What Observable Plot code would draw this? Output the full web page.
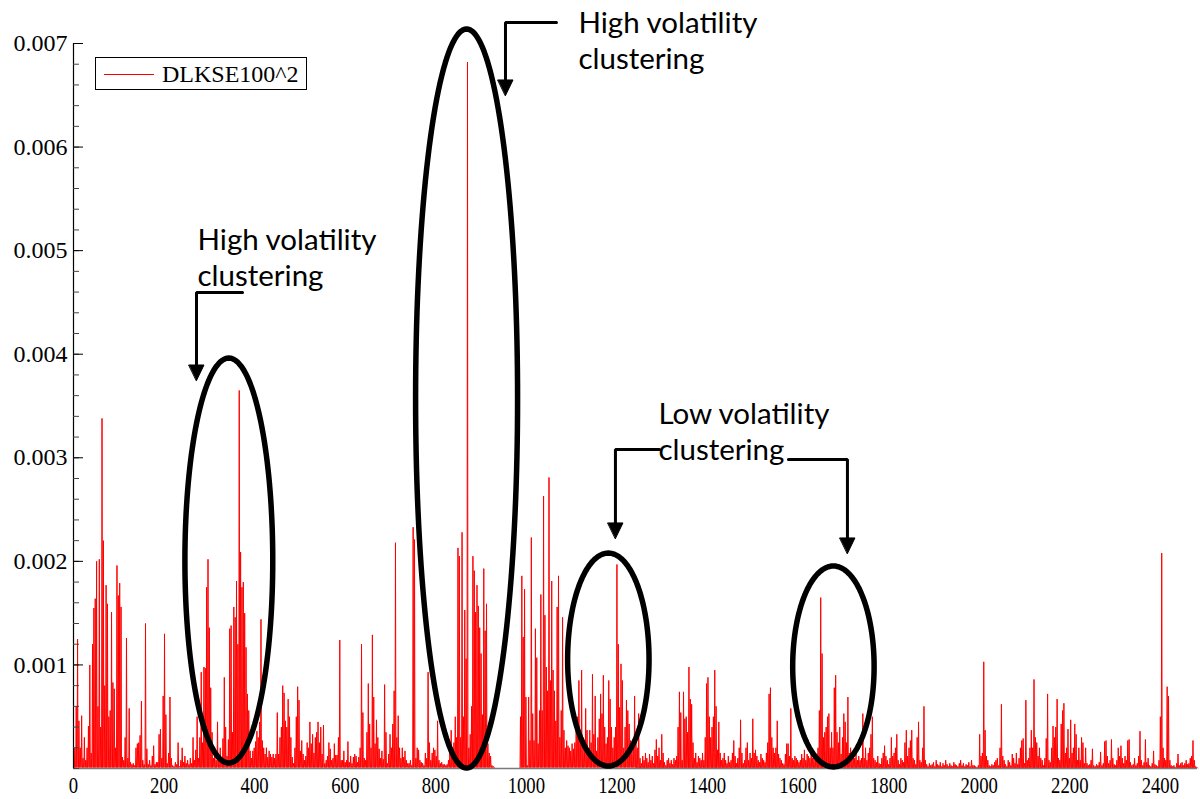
<!DOCTYPE html>
<html><head><meta charset="utf-8">
<script src="https://cdn.jsdelivr.net/npm/d3@7"></script>
<script src="https://cdn.jsdelivr.net/npm/@observablehq/plot@0.6"></script>
<style>
html,body{margin:0;padding:0;background:#fff;}
#wrap{position:relative;width:1200px;height:799px;overflow:hidden;background:#fff;}
#legend{position:absolute;left:95px;top:57px;width:212px;height:33px;border:1px solid #000;background:#fff;box-sizing:border-box;font-family:"Liberation Serif","Times New Roman",serif;font-size:24px;color:#000;}
#legend .sw{position:absolute;left:8px;top:16px;width:50px;height:0;border-top:1px solid #ff0000;}
#legend .lb{position:absolute;left:66px;top:1px;line-height:31px;white-space:nowrap;}
</style></head><body>
<div id="wrap"></div>
<script>
// ---- data: squared log returns of KSE-100 (DLKSE100^2), in units of 1e-5 ----
// local peak read every 3 observations; troughs between peaks read from the lower envelope of each segment
const obsStep = 3;
const valueUnit = 1e-5;
const segStarts = [0, 237, 489, 741, 987, 1242, 1491, 1743, 1989, 2235];
const segFloors = [1, 1, 1, 1, 1, 0.6, 0.6, 0.5, 0.5, 0.5];
const seg0 = [15,20,60,125,46,20,51,10,30,8, 20,41,100,15,120,155,164,200,60,202, 40,338,220,80,177,159,50,56,151,83, 77,20,196,167,179,156,11,8,30,126, 10,58,6,4,5,3,20,24,25,32, 65,8,4,140,19,4,8,3,12,22, 4,6,6,33,38,10,70,130,52,5, 15,69,10,3,2,6,4,25,2];
const seg1 = [8,20,6,12,5,8,4,10,5,30, 8,18,50,10,30,93,25,98,97,175, 202,136,78,35,10,20,8,45,12,20, 10,29,88,40,12,28,135,138,35,156, 146,181,120,365,209,175,180,150,117,72, 56,17,10,17,20,26,36,30,45,144, 27,20,14,20,11,17,14,11,14,10, 14,54,14,30,40,80,73,46,40,67, 50,30,11,5];
const seg2 = [20,50,79,66,17,27,14,8,12,25, 20,45,24,33,15,30,35,45,25,40, 14,42,5,8,12,25,19,8,10,24, 13,13,30,124,8,8,17,6,8,26, 6,12,5,11,14,12,6,11,20,120, 54,10,8,35,82,43,20,129,69,24, 47,30,19,10,17,9,81,35,5,14, 33,20,43,75,218,30,51,20,10,20, 11,17,8,5];
const seg3 = [5,8,3,233,221,10,20,18,8,6, 5,3,15,10,93,25,8,15,20,18, 12,46,8,5,6,4,4,3,4,8, 15,37,20,25,50,30,213,205,30,228, 50,153,106,682,20,33,60,205,191,151, 177,157,136,111,52,193,133,159,24,15, 12,3,2, 0,0,0,0,0,0,0,0,0,0,0,0,0,0,0,0,0,0,0];
const seg4 = [50,186,127,173,69,3,69,27,223,53, 27,135,107,24,56,168,56,263,148,98, 75,281,85,181,95,75,46,156,186,30, 56,146,37,20,27,22,20,17,24,19, 25,37,50,85,37,95,30,20,58,37, 14,37,25,91,33,70,17,30,48,72, 53,90,40,24,30,85,67,40,20,30, 40,197,120,59,101,85,20,40,66,56, 43,27,20,20,70];
const seg5 = [30,20,53,10,5,12,8,15,10,6, 14,8,12,5,18,28,12,20,8,33, 15,6,3,8,10,5,8,4,10,8, 12,40,74,54,8,74,48,50,35,98, 67,62,25,10,15,6,12,10,8,15, 8,30,82,88,50,30,40,50,95,60, 18,45,15,8,10,15,8,5,12,6, 8,15,27,12,5,10,20,47,15,5, 8,20,25];
const seg6 = [8,15,10,48,15,18,12,8,6,14, 10,8,6,15,25,72,78,30,20,15, 20,46,14,10,8,5,4,14,24,24, 12,58,10,8,12,10,8,6,8,14, 10,18,8,14,12,10,15,10,12,8, 14,20,56,165,111,30,35,40,50,53, 20,35,20,78,90,35,25,40,14,30, 53,45,25,69,15,20,12,15,10,14, 8,12,8,10];
const seg7 = [53,10,20,8,15,20,33,50,10,8, 6,12,5,4,10,15,22,12,8,4, 10,30,12,15,20,33,8,4,10,8, 6,25,37,12,20,27,37,10,8,4, 30,45,8,6,20,60,8,4,2,5, 3,4,6,2,8,4,3,6,2,5, 3,8,4,2,5,3,2,6,4,3, 2,5,8,3,5,2,4,3,6,2, 8,3];
const seg8 = [3,2,1,3,33,12,15,103,37,12, 8,3,2,4,3,6,8,10,3,20, 62,12,8,4,2,8,6,3,14,10, 5,15,4,10,20,27,29,5,66,8, 10,20,37,20,86,30,25,12,20,10, 8,3,10,29,72,8,6,20,41,30, 40,67,10,8,43,56,63,15,20,38, 10,47,15,20,43,33,8,20,8,30, 25,5];
const seg9 = [20,5,3,4,8,19,3,2,4,3, 6,16,3,5,26,27,12,5,8,28, 10,4,3,8,20,12,22,10,5,12, 8,27,28,6,3,4,10,3,5,12, 36,8,3,6,28,6,10,3,2,5, 17,4,3,2,8,50,208,20,10,8, 79,70,8,3,2,3,1,5,14,3, 5,6,3,5,8,4,5,10,12,27, 8,2,1];
const segValues = [seg0, seg1, seg2, seg3, seg4, seg5, seg6, seg7, seg8, seg9];

const seriesName = "DLKSE100^2";
const xTickValues = [0,200,400,600,800,1000,1200,1400,1600,1800,2000,2200,2400];
const yTickValues = [0.001,0.002,0.003,0.004,0.005,0.006,0.007];
const yMinorValues = d3.range(0, 36).map(i => +(i * 0.0002).toFixed(4));
const xDomain = [0, 2482];
const yDomain = [0, 0.007];

// ---- annotations (data coordinates) ----
const ellipseCx = [343, 868, 1181, 1678];
const ellipseCy = [0.002008, 0.003572, 0.001052, 0.000985];
const ellipseRx = [97, 112.6, 89.9, 89.9];
const ellipseRy = [0.001955, 0.003568, 0.001028, 0.000970];

const arrowPaths = [
  [[373.2, 0.004596], [271.6, 0.004596], [271.6, 0.003901]],
  [[1066.5, 0.007203], [953.9, 0.007203], [953.9, 0.006643]],
  [[1294, 0.003080], [1196.7, 0.003080], [1196.7, 0.002366]],
  [[1578.7, 0.002983], [1709, 0.002983], [1709, 0.002230]]
];
const arrowTips = [[271.6, 0.003746], [953.9, 0.006498], [1196.7, 0.002221], [1709, 0.002076]];
const arrowHalfWidth = 16.6;   // x units
const arrowHeadLen = 0.000150; // y units

const annotText = ["High volatility", "clustering", "High volatility", "clustering", "Low volatility", "clustering"];
const annotX = [273.8, 273.8, 1115, 1115, 1291.7, 1291.7];
const annotY = [0.0050015, 0.004654, 0.007097, 0.006749, 0.003331, 0.002974];

// ---- build tables ----
const series = [];
segValues.forEach((vals, s) => vals.forEach((v, i) => {
  const t = segStarts[s] + obsStep * i;
  series.push({t, v: v * valueUnit});
  for (let k = 1; k < obsStep; k++) {
    if (t + k <= xDomain[1]) series.push({t: t + k, v: Math.min(v, segFloors[s]) * valueUnit});
  }
}));

const ellipsePts = [];
ellipseCx.forEach((cx, e) => {
  for (let k = 0; k <= 160; k++) {
    const a = 2 * Math.PI * k / 160;
    ellipsePts.push({e, x: cx + ellipseRx[e] * Math.cos(a), y: ellipseCy[e] + ellipseRy[e] * Math.sin(a)});
  }
});
const connPts = [];
arrowPaths.forEach((p, a) => p.forEach(([x, y]) => connPts.push({a, x, y})));
const headPts = [];
arrowTips.forEach(([x, y], a) => {
  headPts.push({a, x: x - arrowHalfWidth, y: y + arrowHeadLen});
  headPts.push({a, x: x + arrowHalfWidth, y: y + arrowHeadLen});
  headPts.push({a, x: x, y: y});
});
const annots = annotText.map((text, i) => ({text, x: annotX[i], y: annotY[i]}));

const frameW = 1200 - 73 - 3;

const chart = Plot.plot({
  width: 1200, height: 799,
  marginLeft: 73, marginRight: 3, marginTop: 43, marginBottom: 31,
  style: {background: "white", fontFamily: "'Liberation Serif','Times New Roman',serif", fontSize: "24px", color: "black"},
  x: {domain: xDomain},
  y: {domain: yDomain},
  marks: [
    Plot.line(series, {x: "t", y: "v", stroke: "#ff0000", strokeWidth: 1}),
    Plot.ruleY([0], {stroke: "#7a7a7a", strokeWidth: 1.5}),
    Plot.ruleX([0], {stroke: "black", strokeWidth: 1.2}),
    Plot.tickY(yMinorValues, {y: d => d, insetRight: frameW - 6, stroke: "#444"}),
    Plot.tickY(yTickValues, {y: d => d, insetRight: frameW - 10, stroke: "black"}),
    Plot.axisY({ticks: yTickValues, tickFormat: d => d.toFixed(3), tickSize: 0, tickPadding: 6, fontSize: 24, label: null}),
    Plot.axisX({ticks: xTickValues, tickFormat: d => String(d), tickSize: 0, tickPadding: 7, fontSize: 24, label: null}),
    Plot.line(ellipsePts, {x: "x", y: "y", z: "e", stroke: "black", strokeWidth: 5.5}),
    Plot.line(connPts, {x: "x", y: "y", z: "a", stroke: "black", strokeWidth: 3, strokeLinejoin: "miter"}),
    Plot.line(headPts, {x: "x", y: "y", z: "a", fill: "black", stroke: "black", strokeWidth: 1, curve: "linear-closed"}),
    Plot.text(annots, {x: "x", y: "y", text: "text", textAnchor: "start", lineAnchor: "bottom", fontSize: 29.5, fontFamily: "Lato, 'Open Sans', 'Noto Sans', sans-serif", fill: "black"})
  ]
});

// condense x tick labels horizontally (reference uses a narrow serif)
chart.querySelectorAll('g[aria-label="x-axis tick label"] text').forEach(t => {
  const tr = t.getAttribute("transform");
  if (tr) t.setAttribute("transform", tr + " scale(0.78,1)");
  else {
    const x = t.getAttribute("x") || 0, y = t.getAttribute("y") || 0;
    t.removeAttribute("x"); t.removeAttribute("y");
    t.setAttribute("transform", `translate(${x},${y}) scale(0.78,1)`);
  }
});

const wrap = document.getElementById("wrap");
wrap.appendChild(chart);
const legend = document.createElement("div");
legend.id = "legend";
legend.innerHTML = `<div class="sw"></div><div class="lb"></div>`;
legend.querySelector(".lb").textContent = seriesName;
wrap.appendChild(legend);
</script>
</body></html>
